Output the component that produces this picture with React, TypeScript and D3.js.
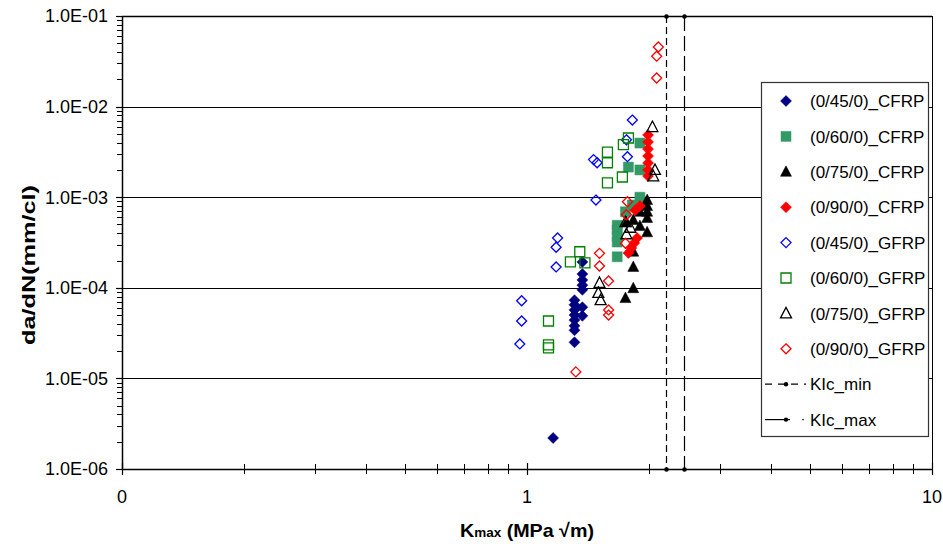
import React from 'react';
import * as d3 from 'd3';

const seriesNames = [
  '(0/45/0)_CFRP', '(0/60/0)_CFRP', '(0/75/0)_CFRP', '(0/90/0)_CFRP',
  '(0/45/0)_GFRP', '(0/60/0)_GFRP', '(0/75/0)_GFRP', '(0/90/0)_GFRP',
];

const cfrp45K = [1.16, 1.37, 1.37, 1.37, 1.37, 1.37, 1.31, 1.31, 1.37, 1.31, 1.31, 1.37, 1.31, 1.31, 1.31, 1.31];
const cfrp45R = [2.2e-6, 1.93e-4, 1.42e-4, 1.22e-4, 1.07e-4, 9.5e-5, 7.3e-5, 6.5e-5, 6.1e-5, 5.7e-5, 5.0e-5, 4.9e-5, 4.4e-5, 3.8e-5, 3.4e-5, 2.5e-5];

const cfrp60K = [1.90, 1.78, 1.90, 1.90, 1.82, 1.75, 1.67, 1.67, 1.67, 1.67, 1.67];
const cfrp60R = [3.96e-3, 2.15e-3, 2.0e-3, 1.0e-3, 8.2e-4, 6.9e-4, 4.9e-4, 4.35e-4, 3.7e-4, 3.2e-4, 2.2e-4];

const cfrp75K = [1.98, 1.98, 1.98, 1.98, 1.90, 1.83, 1.76, 1.90, 1.98, 1.83, 1.83, 1.83, 1.75];
const cfrp75R = [9.3e-4, 8.0e-4, 6.9e-4, 5.9e-4, 6.9e-4, 5.6e-4, 5.3e-4, 4.8e-4, 4.1e-4, 2.5e-4, 1.7e-4, 9.9e-5, 7.7e-5];

const cfrp90K = [1.99, 1.99, 1.99, 1.99, 1.99, 1.99, 1.99, 1.85, 1.90, 1.87, 1.84, 1.81, 1.78];
const cfrp90R = [4.86e-3, 4.07e-3, 3.4e-3, 2.85e-3, 2.38e-3, 2.0e-3, 1.71e-3, 7.2e-4, 8.0e-4, 3.55e-4, 3.12e-4, 2.75e-4, 2.42e-4];

const gfrp45K = [1.82, 1.76, 1.77, 1.46, 1.49, 1.48, 1.19, 1.18, 1.18, 0.97, 0.97, 0.96];
const gfrp45R = [7.1e-3, 4.3e-3, 2.8e-3, 2.6e-3, 2.4e-3, 9.3e-4, 3.55e-4, 2.8e-4, 1.7e-4, 7.2e-5, 4.3e-5, 2.4e-5];

const gfrp60K = [1.78, 1.73, 1.58, 1.58, 1.72, 1.58, 1.35, 1.28, 1.39, 1.13, 1.13, 1.13];
const gfrp60R = [4.5e-3, 3.8e-3, 3.15e-3, 2.4e-3, 1.67e-3, 1.44e-3, 2.5e-4, 1.93e-4, 1.88e-4, 4.3e-5, 2.35e-5, 2.17e-5];

const gfrp75K = [2.04, 2.07, 2.05, 1.75, 1.80, 1.76, 1.51, 1.50, 1.52];
const gfrp75R = [5.95e-3, 2.0e-3, 1.7e-3, 5.3e-4, 4.6e-4, 3.9e-4, 1.13e-4, 8.8e-5, 7.3e-5];

const gfrp90K = [2.11, 2.09, 2.09, 1.77, 1.76, 1.75, 1.51, 1.51, 1.59, 1.59, 1.59, 1.32];
const gfrp90R = [4.55e-2, 3.6e-2, 2.07e-2, 8.9e-4, 6.4e-4, 3.1e-4, 2.4e-4, 1.74e-4, 1.19e-4, 5.7e-5, 5.0e-5, 1.18e-5];

const kicNames = ['KIc_min', 'KIc_max'];
const kicValues = [2.20, 2.44];

const yTickValues = [1e-6, 1e-5, 1e-4, 1e-3, 1e-2, 1e-1];
const yTickLabels = ['1.0E-06', '1.0E-05', '1.0E-04', '1.0E-03', '1.0E-02', '1.0E-01'];
const xTickValues = [0.1, 1, 10];
const xTickLabels = ['0', '1', '10'];

const W = 943;
const H = 544;
const left = 122;
const right = 932;
const top = 16;
const bottom = 469;

type Shape = 'diamond' | 'square' | 'triangle';
const seriesData: { k: number[]; r: number[]; shape: Shape; color: string; filled: boolean }[] = [
  { k: cfrp45K, r: cfrp45R, shape: 'diamond', color: '#000080', filled: true },
  { k: cfrp60K, r: cfrp60R, shape: 'square', color: '#339966', filled: true },
  { k: cfrp75K, r: cfrp75R, shape: 'triangle', color: '#000000', filled: true },
  { k: cfrp90K, r: cfrp90R, shape: 'diamond', color: '#ff0000', filled: true },
  { k: gfrp45K, r: gfrp45R, shape: 'diamond', color: '#0000ff', filled: false },
  { k: gfrp60K, r: gfrp60R, shape: 'square', color: '#008000', filled: false },
  { k: gfrp75K, r: gfrp75R, shape: 'triangle', color: '#000000', filled: false },
  { k: gfrp90K, r: gfrp90R, shape: 'diamond', color: '#ff0000', filled: false },
];

function shapePath(shape: Shape, filled: boolean): string {
  if (shape === 'diamond') {
    const s = filled ? 5.5 : 5;
    return `M0,${-s}L${s},0L0,${s}L${-s},0Z`;
  }
  if (shape === 'square') {
    const s = 5;
    return `M${-s},${-s}H${s}V${s}H${-s}Z`;
  }
  return 'M0,-6L5.5,4.5L-5.5,4.5Z';
}

function Marker({ x, y, shape, color, filled }: { x: number; y: number; shape: Shape; color: string; filled: boolean }) {
  return (
    <path
      d={shapePath(shape, filled)}
      transform={`translate(${x},${y})`}
      fill={filled ? color : 'none'}
      stroke={color}
      strokeWidth={filled ? 0.5 : 1.3}
    />
  );
}

export default function App() {
  const x = d3.scaleLog().domain([0.1, 10]).range([left, right]);
  const y = d3.scaleLog().domain([1e-6, 1e-1]).range([bottom, top]);

  const xMinor: number[] = [];
  for (const base of [0.1, 1]) for (let m = 2; m <= 9; m++) xMinor.push(base * m);
  const yMinor: number[] = [];
  for (let e = -6; e < -1; e++) for (let m = 2; m <= 9; m++) yMinor.push(m * Math.pow(10, e));

  const font = '"Liberation Sans", Arial, sans-serif';
  const legX = 761;
  const legY = 82;
  const legStep = 35.4;
  const legFirst = 101;

  return (
    <svg width={W} height={H} style={{ position: 'absolute', left: 0, top: 0, background: '#fff' }} fontFamily={font}>
      <rect x={0} y={0} width={W} height={H} fill="#fff" />
      {yTickValues.slice(1, -1).map((v) => (
        <line key={`g${v}`} x1={left} x2={right} y1={Math.round(y(v)) + 0.5} y2={Math.round(y(v)) + 0.5} stroke="#000" strokeWidth={1} />
      ))}
      <line x1={left} x2={right} y1={top + 0.5} y2={top + 0.5} stroke="#000" strokeWidth={1.5} />
      <line x1={right + 0.5} x2={right + 0.5} y1={top} y2={bottom} stroke="#000" strokeWidth={1} />
      <line x1={left + 0.5} x2={left + 0.5} y1={top} y2={bottom} stroke="#000" strokeWidth={1.5} />
      <line x1={left} x2={right} y1={bottom + 0.5} y2={bottom + 0.5} stroke="#000" strokeWidth={1.5} />
      {yMinor.map((v) => (
        <line key={`ym${v}`} x1={left - 5} x2={left} y1={Math.round(y(v)) + 0.5} y2={Math.round(y(v)) + 0.5} stroke="#000" strokeWidth={1} />
      ))}
      {yTickValues.map((v, i) => (
        <g key={`yt${v}`}>
          <line x1={left - 6} x2={left} y1={Math.round(y(v)) + 0.5} y2={Math.round(y(v)) + 0.5} stroke="#000" strokeWidth={1.2} />
          <text x={108} y={y(v)} dy="0.36em" textAnchor="end" fontSize={18} fill="#000">{yTickLabels[i]}</text>
        </g>
      ))}
      {xMinor.map((v) => (
        <line key={`xm${v}`} x1={Math.round(x(v)) + 0.5} x2={Math.round(x(v)) + 0.5} y1={bottom - 5} y2={bottom + 5} stroke="#000" strokeWidth={1} />
      ))}
      {xTickValues.map((v, i) => (
        <g key={`xt${v}`}>
          <line x1={Math.round(x(v)) + 0.5} x2={Math.round(x(v)) + 0.5} y1={bottom - 6} y2={bottom + 6} stroke="#000" strokeWidth={1.2} />
          <text x={x(v)} y={503} textAnchor="middle" fontSize={18} fill="#000">{xTickLabels[i]}</text>
        </g>
      ))}
      <text
        transform={`translate(35,265) rotate(-90)`}
        textAnchor="middle"
        fontSize={18}
        fontWeight="bold"
        textLength={160}
        lengthAdjust="spacingAndGlyphs"
      >
        da/dN(mm/cl)
      </text>
      <text x={527} y={537} textAnchor="middle" fontWeight="bold" fontSize={19} textLength={134} lengthAdjust="spacingAndGlyphs">
        K<tspan fontSize={13}>max</tspan> (MPa √m)
      </text>
      {seriesData.map((s, si) => (
        <g key={`s${si}`}>
          {s.k.map((kv, i) => (
            <Marker key={i} x={x(kv)} y={y(s.r[i])} shape={s.shape} color={s.color} filled={s.filled} />
          ))}
        </g>
      ))}
      {kicValues.map((v, i) => (
        <g key={`k${i}`}>
          <line
            x1={Math.round(x(v)) + 0.5}
            x2={Math.round(x(v)) + 0.5}
            y1={top}
            y2={bottom}
            stroke="#000"
            strokeWidth={1.2}
            strokeDasharray={i === 0 ? '7,4' : '15,5'}
          />
          <circle cx={Math.round(x(v)) + 0.5} cy={top + 0.5} r={2.3} fill="#000" />
          <circle cx={Math.round(x(v)) + 0.5} cy={bottom + 0.5} r={2.3} fill="#000" />
        </g>
      ))}
      <rect x={legX + 0.5} y={legY + 0.5} width={167} height={354} fill="#fff" stroke="#333" strokeWidth={1.2} />
      {seriesNames.map((n, i) => {
        const s = seriesData[i];
        const cy = legFirst + i * legStep;
        return (
          <g key={`l${i}`}>
            <Marker x={786} y={cy} shape={s.shape} color={s.color} filled={s.filled} />
            <text x={810} y={cy} dy="0.36em" fontSize={17} fill="#000">{n}</text>
          </g>
        );
      })}
      {kicNames.map((n, i) => {
        const cy = legFirst + (8 + i) * legStep;
        return (
          <g key={`lk${i}`}>
            {i === 0 ? (
              <line x1={765} x2={806} y1={cy} y2={cy} stroke="#000" strokeWidth={1.2} strokeDasharray="7,6" />
            ) : (
              <>
                <line x1={765} x2={790} y1={cy} y2={cy} stroke="#000" strokeWidth={1.2} />
                <circle cx={803} cy={cy} r={0.8} fill="#000" />
              </>
            )}
            <circle cx={786} cy={cy} r={2.2} fill="#000" />
            <text x={810} y={cy} dy="0.36em" fontSize={17} fill="#000">{n}</text>
          </g>
        );
      })}
    </svg>
  );
}
